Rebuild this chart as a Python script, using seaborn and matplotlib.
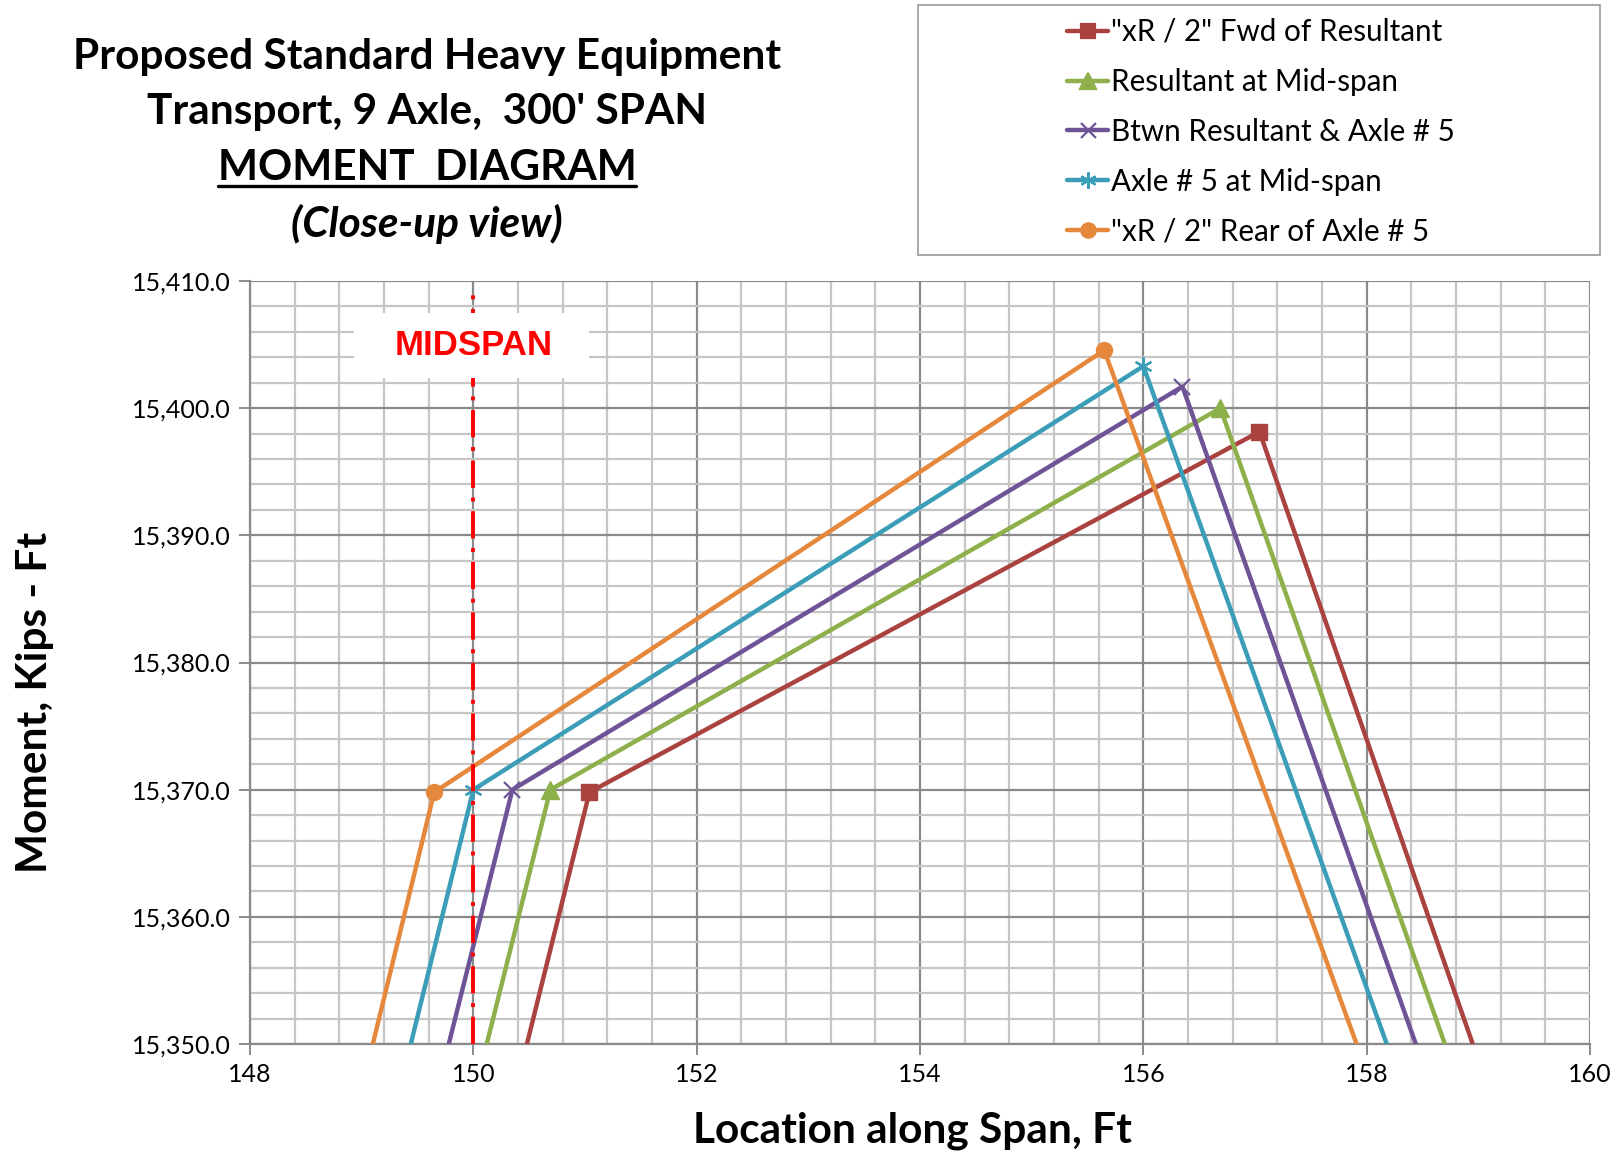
import matplotlib
matplotlib.use("Agg")
import matplotlib.pyplot as plt
from matplotlib.ticker import MultipleLocator, FuncFormatter
from matplotlib.patches import Rectangle
from matplotlib.lines import Line2D
import seaborn as sns
import pandas as pd

# ---------------- data ----------------
series_names = ['"xR / 2" Fwd of Resultant', 'Resultant at Mid-span',
                'Btwn Resultant & Axle # 5', 'Axle # 5 at Mid-span',
                '"xR / 2" Rear of Axle # 5']
fwd_x = [150.48, 151.04, 157.04, 158.95]
fwd_y = [15350.0, 15369.8, 15398.15, 15350.0]
res_x = [150.12, 150.69, 156.69, 158.70]
res_y = [15350.0, 15370.0, 15400.0, 15350.0]
btw_x = [149.78, 150.35, 156.35, 158.44]
btw_y = [15350.0, 15370.0, 15401.7, 15350.0]
axl_x = [149.44, 150.00, 156.00, 158.18]
axl_y = [15350.0, 15370.0, 15403.3, 15350.0]
rear_x = [149.10, 149.65, 155.65, 157.91]
rear_y = [15350.0, 15369.8, 15404.55, 15350.0]
midspan_x = 150.0

xs = [fwd_x, res_x, btw_x, axl_x, rear_x]
ys = [fwd_y, res_y, btw_y, axl_y, rear_y]
colors = ["#AA423F", "#8DB04B", "#6E5396", "#3B9DB7", "#E5883C"]
markers = ["s", "^", "x", (6, 2, 0), "o"]
msizes = [11.5, 12.5, 12, 13, 11.5]

sns.set_theme(style="white")
plt.rcParams['font.family'] = ['Lato', 'DejaVu Sans']
plt.rcParams['text.color'] = 'black'
plt.rcParams['axes.labelcolor'] = 'black'
plt.rcParams['xtick.labelcolor'] = 'black'
plt.rcParams['ytick.labelcolor'] = 'black'

W, H = 1619, 1156
fig = plt.figure(figsize=(W / 100, H / 100), dpi=100)
ax = fig.add_axes([250 / W, 1 - 1044 / H, (1590 - 250) / W, (1044 - 281) / H])

for name, x, y, c, m, ms in zip(series_names, xs, ys, colors, markers, msizes):
    df = pd.DataFrame({"x": x, "y": y})
    thin = (m == "x") or isinstance(m, tuple)
    sns.lineplot(data=df, x="x", y="y", ax=ax, sort=False, color=c, lw=3.2,
                 marker=m, markersize=ms, markevery=[1, 2], mew=1.6 if thin else 1,
                 mec=c, mfc=c, label=name, legend=False, zorder=3)

ax.set_xlim(148, 160)
ax.set_ylim(15350, 15410)
ax.xaxis.set_major_locator(MultipleLocator(2))
ax.xaxis.set_minor_locator(MultipleLocator(0.4))
ax.yaxis.set_major_locator(MultipleLocator(10))
ax.yaxis.set_minor_locator(MultipleLocator(2))
ax.yaxis.set_major_formatter(FuncFormatter(lambda v, p: f"{v:,.1f}"))
ax.grid(which='minor', color='#c6c6c6', lw=1.6, zorder=0)
ax.grid(which='major', color='#8a8a8a', lw=1.6, zorder=0)
ax.set_axisbelow(True)
for s in ax.spines.values():
    s.set_color('#8a8a8a')
    s.set_linewidth(1.6)
ax.spines['top'].set_visible(False)
ax.spines['right'].set_visible(False)
ax.tick_params(which='major', direction='out', length=8, width=1.4, color='#8a8a8a',
               labelsize=18, bottom=True, left=True, pad=6)
ax.tick_params(which='minor', length=0)

ax.set_xlabel("Location along Span, Ft", fontsize=30.5, fontweight='bold')
ax.set_ylabel("Moment, Kips - Ft", fontsize=30.5, fontweight='bold')
ax.xaxis.set_label_coords(0.494, -0.088)
ax.yaxis.set_label_coords(-0.146, 0.448)

# midspan line and label
ax.axvline(midspan_x, color='#FF0000', lw=2.8, ls=(0, (7, 2.5, 1, 2.5)), zorder=4,
           ymax=(15409 - 15350) / 60)
ax.add_patch(Rectangle((148.93, 15402.37), 151.04 - 148.93, 15407.48 - 15402.37,
                       fc='white', ec='none', zorder=4.5))
ax.text(midspan_x, 15404.9, "MIDSPAN", color='#FF0000', fontsize=25, fontweight='bold',
        family=['Liberation Sans', 'DejaVu Sans'], ha='center', va='center', zorder=5)

# title
cx = 427 / W
fs_t = 30.5
fig.text(cx, 1 - 57 / H, "Proposed Standard Heavy Equipment", ha='center', va='center',
         fontsize=fs_t, fontweight='bold')
fig.text(cx, 1 - 112 / H, "Transport, 9 Axle,  300' SPAN", ha='center', va='center',
         fontsize=fs_t, fontweight='bold')
t3 = fig.text(cx, 1 - 168 / H, "MOMENT  DIAGRAM", ha='center', va='center',
              fontsize=fs_t, fontweight='bold')
fig.text(cx, 1 - 224 / H, "(Close-up view)", ha='center', va='center',
         fontsize=fs_t, fontweight='bold', style='italic')

fig.canvas.draw()
bb = t3.get_window_extent(renderer=fig.canvas.get_renderer())
uy = (bb.y0 + 1) / H
fig.add_artist(Line2D([bb.x0 / W, bb.x1 / W], [uy, uy], color='black', lw=2.4))

# legend
fig.add_artist(Rectangle((918 / W, 1 - 255 / H), (1600 - 918) / W, (255 - 5) / H,
                         transform=fig.transFigure, fc='white', ec='#9a9a9a', lw=1.2))
handles = [Line2D([], [], color=c, lw=3.2, marker=m, markersize=ms * 0.9, mfc=c, mec=c, mew=1.6)
           for c, m, ms in zip(colors, markers, msizes)]
leg = fig.legend(handles, series_names, loc='upper left', bbox_to_anchor=(1067 / W, 1 - 18 / H),
                 frameon=False, fontsize=21.3, handlelength=1.4, handletextpad=0.08,
                 labelspacing=0.74, borderpad=0, borderaxespad=0)

fig.savefig("out.png", dpi=100, facecolor='white')
